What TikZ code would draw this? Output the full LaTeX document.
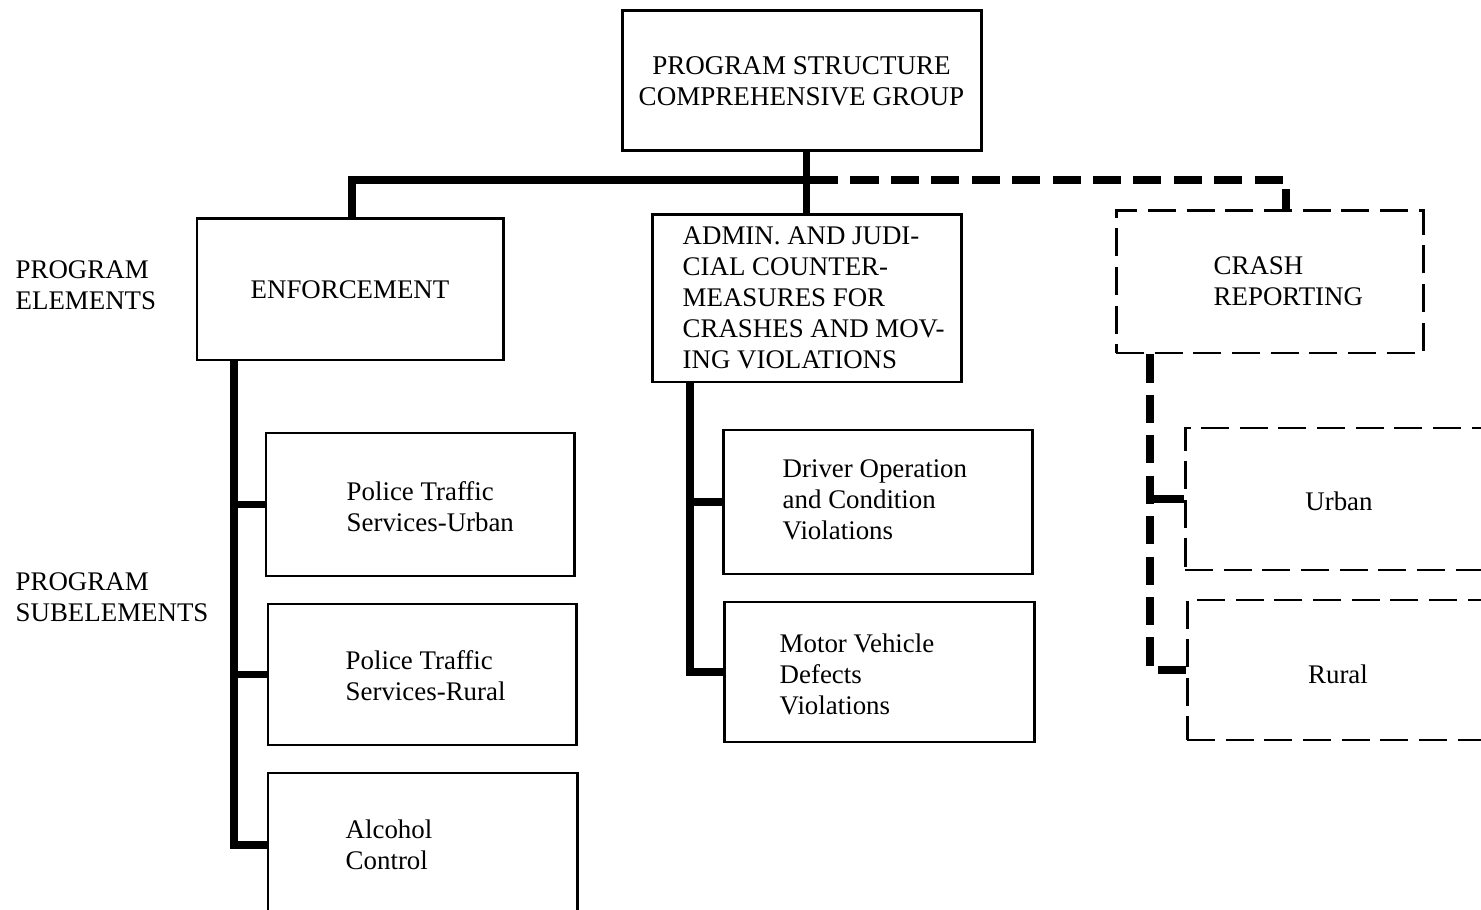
\documentclass[tikz,border=0pt]{standalone}
\usepackage{fontspec}
\setmainfont{Liberation Serif}
\begin{document}
\begin{tikzpicture}[
  x=1cm,y=1cm,
  box/.style={draw, line width=0.85pt, rectangle, inner sep=0pt},
  dbox/.style={box, dash pattern=on 8pt off 3pt},
  txt/.style={inner sep=0pt, font=\fontsize{7.65}{8.8}\selectfont},
  ltxt/.style={txt, align=left, anchor=west},
  ctxt/.style={txt, align=center},
  trunk/.style={line width=2.2pt},
  dtrunk/.style={line width=2.2pt, dash pattern=on 8pt off 3.5pt}
]
\clip (0,0) rectangle (14.81,-9.10);
\fill[white] (0,0) rectangle (14.81,-9.10);

% boxes
\node[box, minimum width=3.59cm, minimum height=1.40cm, align=center, font=\fontsize{7.7}{8.8}\selectfont] (top) at (8.015,-0.81) {PROGRAM STRUCTURE\\COMPREHENSIVE GROUP};
\node[box, minimum width=3.06cm, minimum height=1.41cm, font=\fontsize{7.65}{8.8}\selectfont] (enf) at (3.50,-2.895) {ENFORCEMENT};
\node[box, minimum width=3.09cm, minimum height=1.67cm] (adm) at (8.065,-2.985) {};
\node[dbox, minimum width=3.07cm, minimum height=1.42cm] (crash) at (12.695,-2.82) {};

\node[box, minimum width=3.08cm, minimum height=1.43cm] (pu) at (4.20,-5.045) {};
\node[box, minimum width=3.08cm, minimum height=1.41cm] (pr) at (4.22,-6.745) {};
\node[box, minimum width=3.09cm, minimum height=1.44cm] (ac) at (4.225,-8.45) {};

\node[box, minimum width=3.09cm, minimum height=1.44cm] (drv) at (8.775,-5.02) {};
\node[box, minimum width=3.10cm, minimum height=1.40cm] (mot) at (8.79,-6.72) {};

\node[dbox, minimum width=4.15cm, minimum height=1.42cm] (urb) at (13.925,-4.99) {};
\node[dbox, minimum width=4.13cm, minimum height=1.40cm] (rur) at (13.935,-6.70) {};

% texts
\node[ltxt] (admt) at (6.82,-2.975) {ADMIN. AND JUDI-\\CIAL COUNTER-\\MEASURES FOR\\CRASHES AND MOV-\\ING VIOLATIONS};
\node[ltxt] (crasht) at (12.13,-2.815) {CRASH\\REPORTING};
\node[ltxt] (put) at (3.46,-5.07) {Police Traffic\\Services-Urban};
\node[ltxt] (prt) at (3.45,-6.76) {Police Traffic\\Services-Rural};
\node[ltxt] (act) at (3.45,-8.45) {Alcohol\\Control};
\node[ltxt] (drvt) at (7.82,-5.00) {Driver Operation\\and Condition\\Violations};
\node[ltxt] (mott) at (7.79,-6.74) {Motor Vehicle\\Defects\\Violations};
\node[ctxt] (urbt) at (13.39,-5.01) {Urban};
\node[ctxt] (rurt) at (13.38,-6.74) {Rural};
\node[ltxt] (pe) at (0.15,-2.855) {PROGRAM\\ELEMENTS};
\node[ltxt] (ps) at (0.15,-5.97) {PROGRAM\\SUBELEMENTS};

% connectors
\coordinate (busR) at (8.10,-1.80);
\draw[trunk] (adm.north |- top.south) -- (adm.north);
\draw[trunk] ([xshift=0.02cm]enf.north) |- (busR);
\draw[dtrunk] (busR) -| ([xshift=0.165cm]crash.north);

\coordinate (et) at ([xshift=-1.16cm]enf.south);
\draw[trunk] (et) |- (ac.west);
\draw[trunk] (et |- pu.west) -- (pu.west);
\draw[trunk] (et |- pr.west) -- (pr.west);

\coordinate (at) at ([xshift=-1.165cm]adm.south);
\draw[trunk] (at) |- (mot.west);
\draw[trunk] (at |- drv.west) -- (drv.west);

\coordinate (ct) at ([xshift=-1.195cm]crash.south);
\draw[dtrunk] (ct) |- (rur.west);
\draw[trunk] (ct |- urb.west) -- (urb.west);
\end{tikzpicture}
\end{document}
